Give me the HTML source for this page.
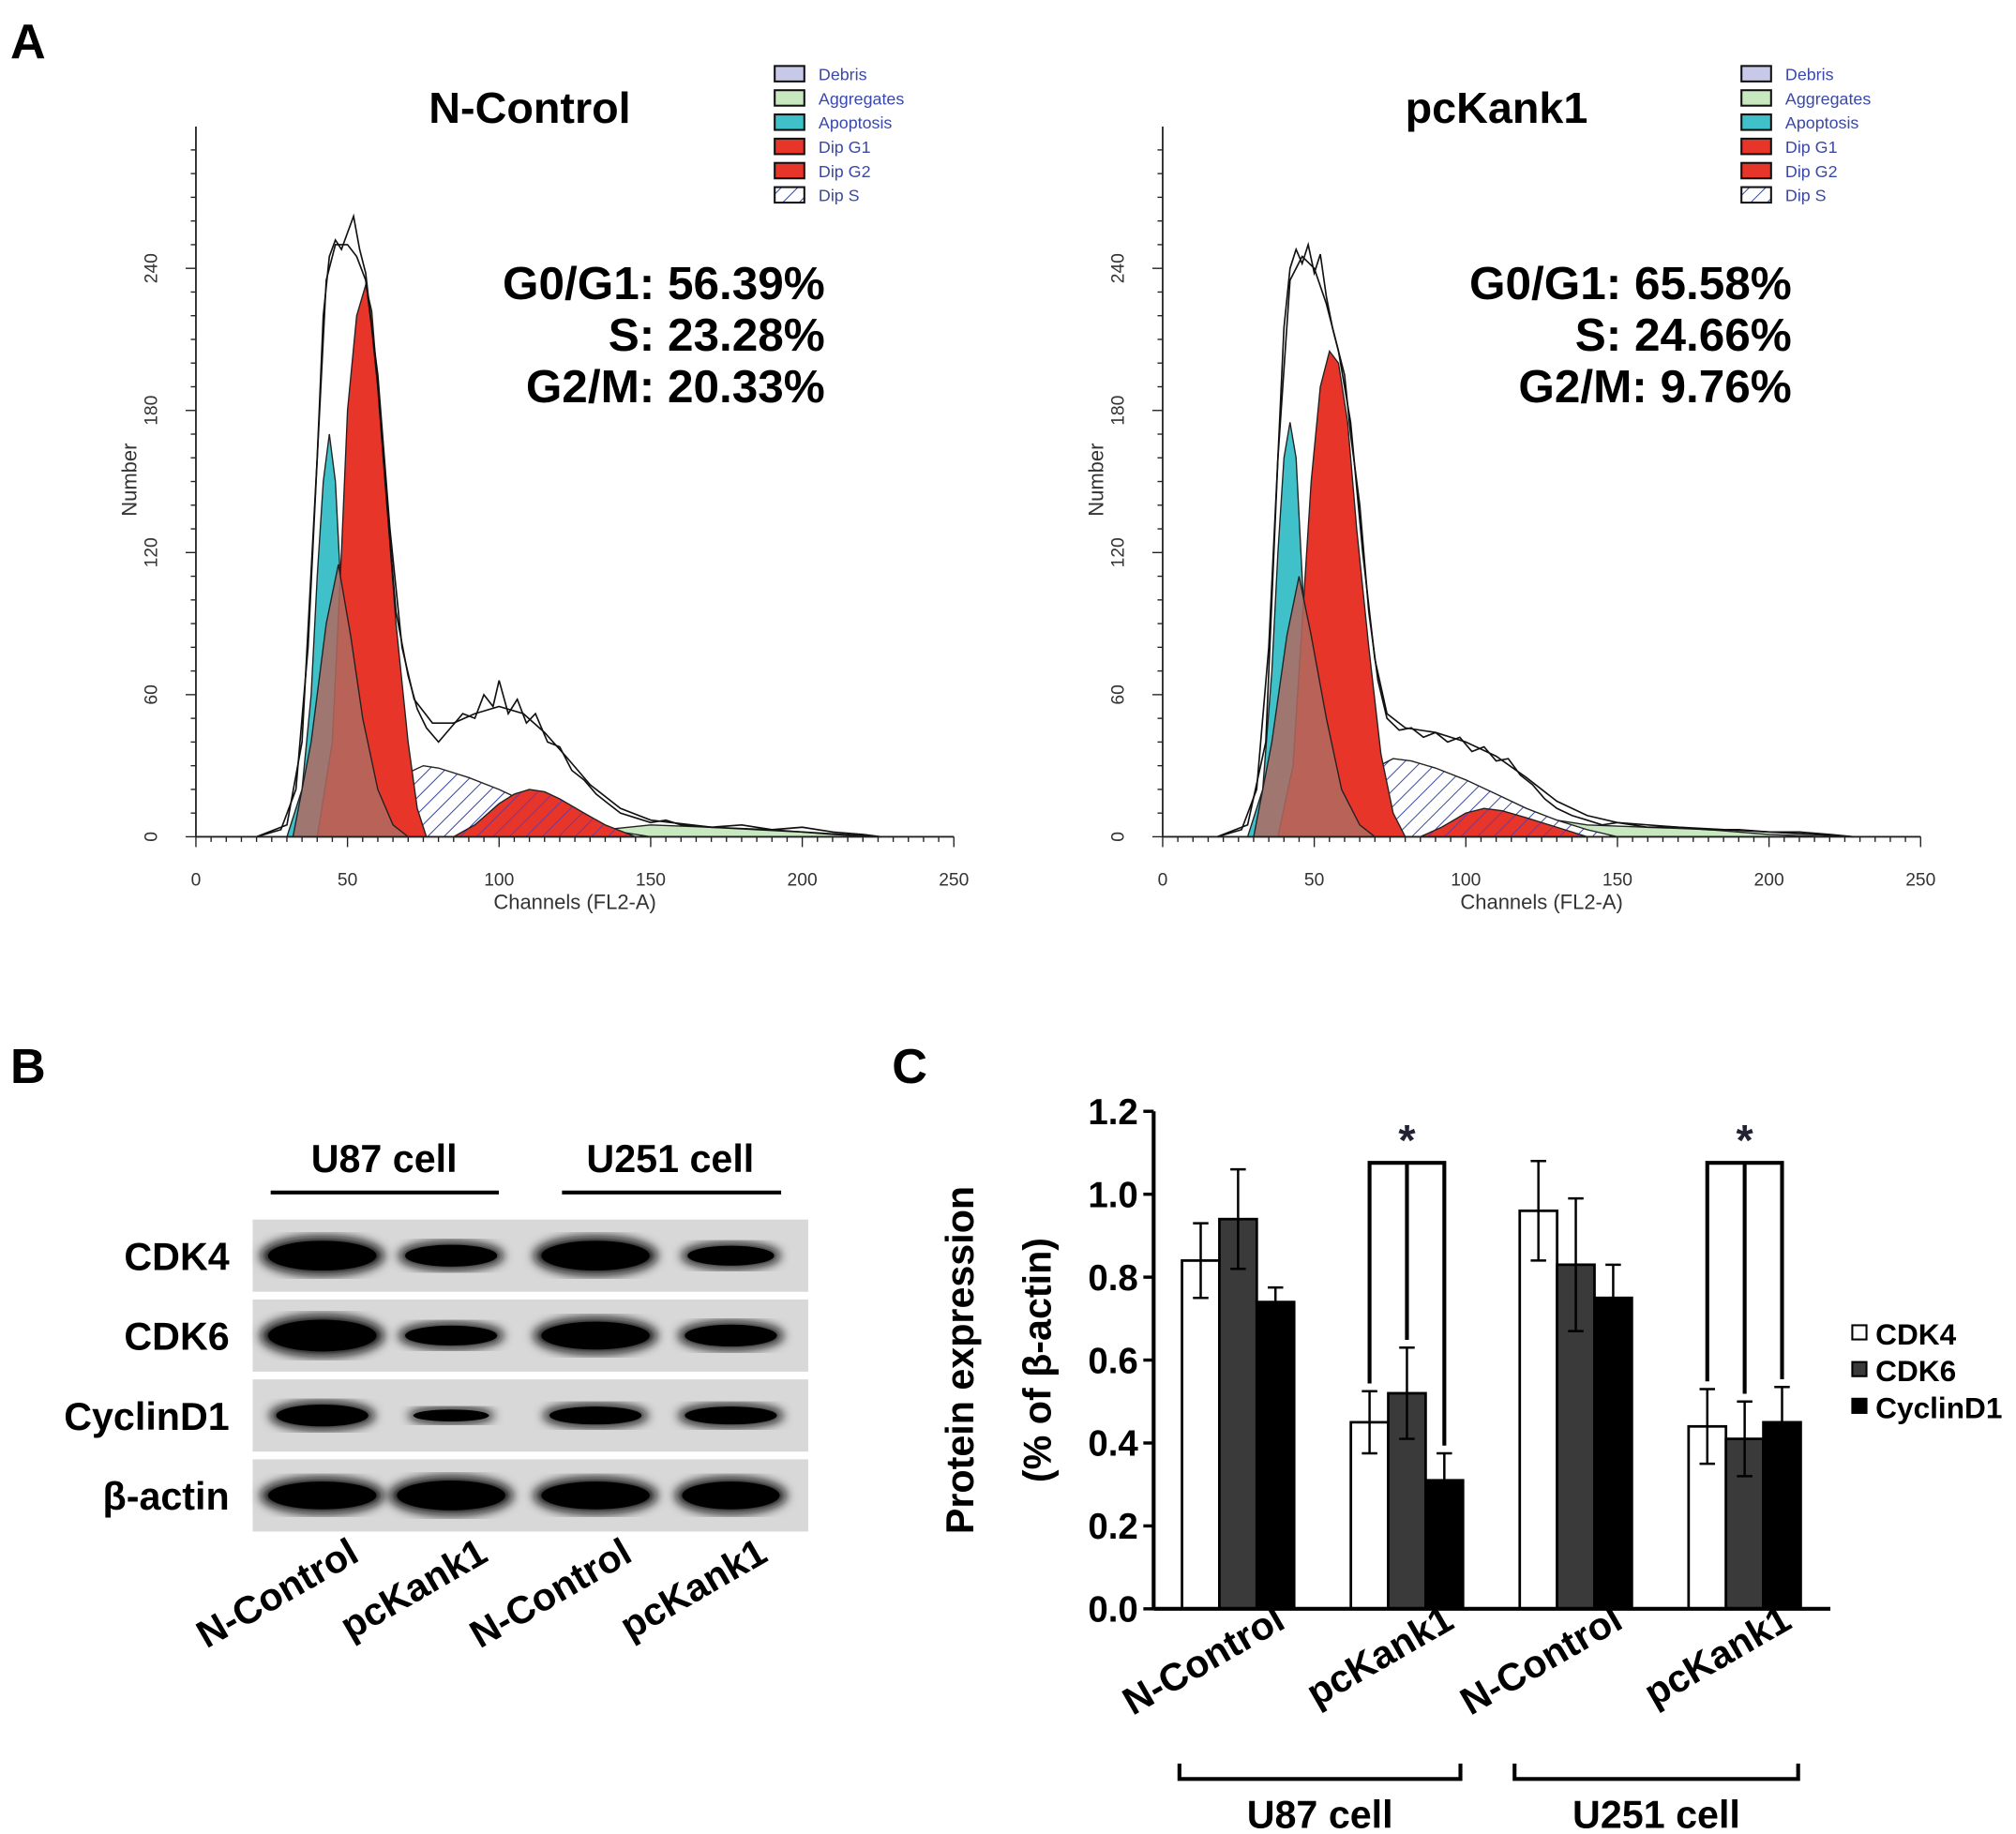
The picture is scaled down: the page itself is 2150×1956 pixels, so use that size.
<!DOCTYPE html>
<html><head><meta charset="utf-8"><style>
html,body{margin:0;padding:0;background:#fff;}
svg{display:block;font-family:"Liberation Sans",Arial,sans-serif;}
</style></head><body>
<svg id="fig" width="2150" height="1956" viewBox="0 0 1564 1422.5" xmlns="http://www.w3.org/2000/svg">
<defs>
<pattern id="hatch" width="9" height="9" patternUnits="userSpaceOnUse" patternTransform="rotate(45)">
<rect width="9" height="9" fill="#fff"/><line x1="0" y1="0" x2="0" y2="9" stroke="#3040a0" stroke-width="1.4"/>
</pattern>
<pattern id="hatchR" width="9" height="9" patternUnits="userSpaceOnUse" patternTransform="rotate(45)">
<rect width="9" height="9" fill="#e8352a"/><line x1="0" y1="0" x2="0" y2="9" stroke="#6a3a9a" stroke-width="1.4"/>
</pattern>
<filter id="blur"><feGaussianBlur stdDeviation="4"/></filter>
</defs>
<g id="panelA"></g>
<g id="panelB"></g>
<g id="panelC"></g>
</svg>
<script>
// ---------- Panel A data ----------
const histTitles = ["N-Control","pcKank1"];
const histStats = [["G0/G1: 56.39%","S: 23.28%","G2/M: 20.33%"],["G0/G1: 65.58%","S: 24.66%","G2/M: 9.76%"]];
const xTicks = [0,50,100,150,200,250];
const yTicks = [0,60,120,180,240];
const legendItems = ["Debris","Aggregates","Apoptosis","Dip G1","Dip G2","Dip S"];
const legendFills = ["#c8c8e8","#c8e8c0","#40c0c8","#e8352a","#e8352a","url(#hatch)"];
// [channel, count] pairs
const apopL = [[30,0],[35,20],[38,60],[40,110],[42,150],[44,170],[46,150],[48,100],[50,60],[52,30],[55,10],[60,0]];
const brownL = [[32,0],[38,40],[43,90],[47,115],[51,85],[55,50],[60,20],[65,5],[70,0]];
const g1L = [[40,0],[45,40],[48,120],[50,180],[53,220],[56,233],[58,222],[60,190],[63,140],[66,90],[70,40],[73,12],[76,0]];
const sL = [[50,0],[58,8],[65,20],[70,27],[75,30],[80,29],[90,25],[100,20],[110,14],[120,9],[130,5],[140,2],[150,0]];
const g2L = [[85,0],[92,5],[100,14],[105,18],[110,20],[115,19],[120,16],[128,10],[135,5],[145,0]];
const aggL = [[120,0],[135,3],[150,5],[170,4],[190,3],[210,1],[225,0]];
const outL = [[20,0],[28,3],[33,20],[37,80],[40,160],[42,220],[44,245],[46,252],[48,248],[50,255],[52,262],[54,248],[56,238],[58,215],[60,190],[63,140],[66,95],[70,68],[73,54],[76,46],[80,40],[84,46],[88,52],[92,50],[95,60],[98,55],[100,66],[103,52],[106,58],[109,48],[112,52],[116,40],[120,38],[124,28],[128,24],[132,18],[136,14],[140,10],[145,8],[150,6],[155,7],[160,5],[170,4],[180,5],[190,3],[200,4],[210,2],[220,1],[226,0]];
const smoothL = [[20,0],[30,5],[35,40],[40,160],[43,235],[46,250],[50,250],[53,245],[56,235],[60,195],[64,130],[68,80],[72,58],[78,48],[85,48],[92,52],[100,55],[108,52],[115,44],[122,34],[130,22],[140,12],[150,7],[170,4],[200,2],[226,0]];

const apopR = [[28,0],[33,20],[36,70],[38,120],[40,160],[42,175],[44,160],[46,110],[48,60],[50,25],[53,8],[58,0]];
const brownR = [[30,0],[36,40],[41,85],[45,110],[49,85],[54,50],[59,20],[65,5],[70,0]];
const g1R = [[38,0],[43,30],[46,90],[49,150],[52,190],[55,205],[58,200],[61,175],[64,130],[68,80],[72,35],[76,10],[80,0]];
const sR = [[48,0],[56,8],[64,20],[70,29],[76,33],[82,32],[90,29],[100,24],[110,18],[120,12],[130,7],[140,3],[150,0]];
const g2R = [[85,0],[92,4],[100,10],[106,12],[112,11],[120,8],[130,4],[140,0]];
const aggR = [[80,0],[90,8],[100,13],[106,14],[115,12],[125,8],[140,5],[160,4],[180,3],[200,1],[220,0]];
const outR = [[18,0],[26,3],[31,20],[35,80],[38,160],[40,215],[42,240],[44,248],[46,242],[48,250],[50,238],[52,246],[54,228],[56,215],[58,205],[60,195],[62,170],[65,140],[68,95],[71,66],[74,50],[78,45],[82,46],[86,42],[90,44],[94,40],[98,42],[102,36],[106,38],[110,32],[114,33],[118,26],[122,22],[126,16],[130,12],[135,9],[140,7],[145,5],[150,6],[160,4],[170,4],[180,3],[190,3],[200,2],[210,2],[220,1],[228,0]];
const smoothR = [[18,0],[28,5],[34,40],[38,160],[42,235],[46,245],[50,240],[54,225],[58,205],[62,175],[66,120],[70,75],[74,52],[80,46],[90,44],[100,40],[110,34],[120,25],[130,15],[140,9],[150,6],[170,4],[200,2],[228,0]];

const histSets = [
 {apop:apopL, brown:brownL, g1:g1L, s:sL, g2:g2L, agg:aggL, out:outL, smooth:smoothL},
 {apop:apopR, brown:brownR, g1:g1R, s:sR, g2:g2R, agg:aggR, out:outR, smooth:smoothR}
];

// ---------- Panel C data ----------
const groups = ["N-Control","pcKank1","N-Control","pcKank1"];
const seriesNames = ["CDK4","CDK6","CyclinD1"];
const cdk4 = [0.84,0.45,0.96,0.44];
const cdk6 = [0.94,0.52,0.83,0.41];
const cyclin = [0.74,0.31,0.75,0.45];
const cdk4Err = [0.09,0.075,0.12,0.09];
const cdk6Err = [0.12,0.11,0.16,0.09];
const cyclinErr = [0.035,0.065,0.08,0.085];
const cTicks = [0,0.2,0.4,0.6,0.8,1.0,1.2];
const sigGroups = [1,3];

const NS="http://www.w3.org/2000/svg";
function mk(parent,tag,attrs,text){const e=document.createElementNS(NS,tag);for(const k in attrs)e.setAttribute(k,attrs[k]);if(text!==undefined)e.textContent=text;parent.appendChild(e);return e;}

// ---------- draw Panel A ----------
const A=document.getElementById('panelA');
const letterA=mk(A,'text',{x:8,y:45,'font-size':38,'font-weight':'bold'},'A');


histSets.forEach((d,i)=>{
  const ox=152+i*750, x1=ox+588, y0=649;
  const sx=c=>ox+c*(588/250), sy=v=>y0-v*(441/240);
  const g=mk(A,'g',{});
  
  
  const area=(pts,fill,name,op)=>{let p='M'+sx(pts[0][0])+','+y0;pts.forEach(q=>p+=' L'+sx(q[0]).toFixed(1)+','+sy(q[1]).toFixed(1));p+=' L'+sx(pts[pts.length-1][0])+','+y0+'Z';
    const e=mk(g,'path',{d:p,fill:fill,stroke:'#222','stroke-width':1,'fill-opacity':op||1});
    
    };
  const line=(pts,name,w)=>{let p='';pts.forEach((q,k)=>p+=(k?' L':'M')+sx(q[0]).toFixed(1)+','+sy(q[1]).toFixed(1));
    const e=mk(g,'path',{d:p,fill:'none',stroke:'#111','stroke-width':w});
    
    };
  area(d.agg,'#c8e8c0','aggregates-area');
  area(d.s,'url(#hatch)','dip-s-area');
  area(d.apop,'#40c0c8','apoptosis-area');
  area(d.g1,'#e8352a','dip-g1-area');
  area(d.brown,'#b06a60','overlap-area',0.85);
  area(d.g2,'url(#hatchR)','dip-g2-area');
  line(d.smooth,'fit-curve',1.2);
  line(d.out,'data-curve',1.2);
  mk(g,'line',{x1:ox,y1:y0,x2:x1,y2:y0,stroke:'#222','stroke-width':1.3});
  mk(g,'line',{x1:ox,y1:y0,x2:ox,y2:98,stroke:'#222','stroke-width':1.3});
  for(let c=0;c<=250;c+=5){const big=c%50===0;mk(g,'line',{x1:sx(c),y1:y0,x2:sx(c),y2:y0+(big?8:4),stroke:'#222'});}
  for(let v=0;v<=290;v+=10){const big=v%60===0;mk(g,'line',{x1:ox,y1:sy(v),x2:ox-(big?8:4),y2:sy(v),stroke:'#222'});}
  xTicks.forEach(t=>{const e=mk(g,'text',{x:sx(t),y:y0+38,'font-size':14,'text-anchor':'middle',fill:'#333'},t);
    
    });
  yTicks.forEach(t=>{const e=mk(g,'text',{x:0,y:0,'font-size':14,'text-anchor':'middle',fill:'#333',transform:`translate(${ox-30},${sy(t)}) rotate(-90)`},t);
    
    });
  const xt=mk(g,'text',{x:sx(125),y:y0+56,'font-size':16,'text-anchor':'middle',fill:'#333'},'Channels (FL2-A)');
  
  
  const yt=mk(g,'text',{x:0,y:0,'font-size':16,'text-anchor':'middle',fill:'#333',transform:`translate(${ox-46},372) rotate(-90)`},'Number');
  
  
  const tt=mk(g,'text',{x:ox+259,y:95,'font-size':34,'font-weight':'bold','text-anchor':'middle'},histTitles[i]);
  
  
  histStats[i].forEach((s,k)=>{const e=mk(g,'text',{x:ox+488,y:232+k*40,'font-size':36,'font-weight':'bold','text-anchor':'end'},s);
    
    });
  legendItems.forEach((n,k)=>{const ly=51+k*18.8;
    const r=mk(g,'rect',{x:ox+449,y:ly,width:23,height:12,fill:legendFills[k],stroke:'#111','stroke-width':1.5});
    
    
    const e=mk(g,'text',{x:ox+483,y:ly+11,'font-size':13,fill:'#3a48a8'},n);
    
    });
});

// ---------- Panel B ----------
const B=document.getElementById('panelB');
const lb=mk(B,'text',{x:8,y:840,'font-size':38,'font-weight':'bold'},'B');


const cells=[["U87 cell",298,210,387],["U251 cell",520,436,606]];
cells.forEach(c=>{const e=mk(B,'text',{x:c[1],y:909,'font-size':30,'font-weight':'bold','text-anchor':'middle'},c[0]);
  
  
  mk(B,'line',{x1:c[2],y1:925,x2:c[3],y2:925,stroke:'#000','stroke-width':3});});
const rows=[["CDK4",946,56,[[1,30],[0.85,22],[1,30],[0.8,20]]],["CDK6",1008,56,[[1,32],[0.85,20],[1,28],[0.85,22]]],["CyclinD1",1070,56,[[0.85,22],[0.7,12],[0.85,18],[0.85,18]]],["β-actin",1132,56,[[1,28],[1,30],[1,28],[0.9,28]]]];
const lanes=[250,350,462,567];
rows.forEach(r=>{
  const g=mk(B,'g',{});
  
  
  mk(g,'rect',{x:196,y:r[1],width:431,height:r[2],fill:'#d8d8d8'});
  r[3].forEach((b,k)=>mk(g,'ellipse',{cx:lanes[k],cy:r[1]+r[2]/2,rx:48*b[0],ry:b[1]/2,fill:'#0a0a0a',filter:'url(#blur)'}));
  r[3].forEach((b,k)=>mk(g,'ellipse',{cx:lanes[k],cy:r[1]+r[2]/2,rx:42*b[0],ry:b[1]/2.6,fill:'#000'}));
  const e=mk(B,'text',{x:178,y:r[1]+r[2]/2+11,'font-size':30,'font-weight':'bold','text-anchor':'end'},r[0]);
  
  
});
["N-Control","pcKank1","N-Control","pcKank1"].forEach((n,k)=>{
  const e=mk(B,'text',{x:0,y:0,'font-size':30,'font-weight':'bold','text-anchor':'end',transform:`translate(${lanes[k]+30},1210) rotate(-30)`},n);
  
  
});

// ---------- Panel C ----------
const C=document.getElementById('panelC');
const lc=mk(C,'text',{x:692,y:840,'font-size':38,'font-weight':'bold'},'C');


const cx0=895, cxe=1420, cy0=1248, cyTop=862;
const yS=v=>cy0-v*(cy0-cyTop)/1.2;
const bw=29, gStart=917, gStep=131;
const xS=(gi,si)=>gStart+gi*gStep+si*bw;
cTicks.forEach(t=>{mk(C,'line',{x1:cx0,y1:yS(t),x2:cx0-8,y2:yS(t),stroke:'#000','stroke-width':2.5});
  const e=mk(C,'text',{x:cx0-12,y:yS(t)+10,'font-size':28,'font-weight':'bold','text-anchor':'end'},t.toFixed(1));
  
  });
const series=[[cdk4,cdk4Err,'#fff'],[cdk6,cdk6Err,'#3a3a3a'],[cyclin,cyclinErr,'#000']];
series.forEach((s,si)=>{s[0].forEach((v,gi)=>{
  const x=xS(gi,si);
  const r=mk(C,'rect',{x:x,y:yS(v),width:bw,height:cy0-yS(v),fill:s[2],stroke:'#000','stroke-width':2});
  
  
  const xm=x+bw/2, e=s[1][gi];
  mk(C,'path',{d:`M${xm},${yS(v-e)} V${yS(v+e)} M${xm-6},${yS(v+e)} H${xm+6} M${xm-6},${yS(v-e)} H${xm+6}`,stroke:'#000','stroke-width':1.8,fill:'none'});
});});
mk(C,'line',{x1:cx0,y1:cy0,x2:cxe,y2:cy0,stroke:'#000','stroke-width':3});
mk(C,'line',{x1:cx0,y1:cy0,x2:cx0,y2:cyTop,stroke:'#000','stroke-width':3});
sigGroups.forEach(gi=>{
  const top=902, xs=[0,1,2].map(si=>xS(gi,si)+bw/2);
  const tops=[cdk4,cdk6,cyclin].map((s,si)=>yS(s[gi]+series[si][1][gi])-6);
  let d=`M${xs[0]},${tops[0]} V${top} H${xs[2]} V${tops[2]} M${xs[1]},${top} V${tops[1]}`;
  const p=mk(C,'path',{d:d,stroke:'#000','stroke-width':3,fill:'none'});
  
  
  const a=mk(C,'text',{x:xs[1],y:896,'font-size':34,'font-weight':'bold','text-anchor':'middle',fill:'#223'},'*');
  
  
});
groups.forEach((n,gi)=>{const e=mk(C,'text',{x:0,y:0,'font-size':30,'font-weight':'bold','text-anchor':'end',transform:`translate(${xS(gi,1)+bw/2+38},1262) rotate(-30)`},n);
  
  });
[["U87 cell",915,1133],["U251 cell",1175,1395]].forEach(c=>{
  mk(C,'path',{d:`M${c[1]},1368 V1380 H${c[2]} V1368`,stroke:'#000','stroke-width':3,fill:'none'});
  const e=mk(C,'text',{x:(c[1]+c[2])/2,y:1418,'font-size':30,'font-weight':'bold','text-anchor':'middle'},c[0]);
  
  });
const t1=mk(C,'text',{x:0,y:0,'font-size':30,'font-weight':'bold','text-anchor':'middle',transform:'translate(755,1055) rotate(-90)'},'Protein expression');


const t2=mk(C,'text',{x:0,y:0,'font-size':30,'font-weight':'bold','text-anchor':'middle',transform:'translate(815,1055) rotate(-90)'},'(% of β-actin)');


seriesNames.forEach((n,si)=>{const ly=1035+si*28.5;
  const r=mk(C,'rect',{x:1437,y:ly-7,width:11,height:11,fill:series[si][2],stroke:'#000','stroke-width':1.5});
  
  
  const e=mk(C,'text',{x:1455,y:ly+8,'font-size':23,'font-weight':'bold'},n);
  
  });
</script>
</body></html>
